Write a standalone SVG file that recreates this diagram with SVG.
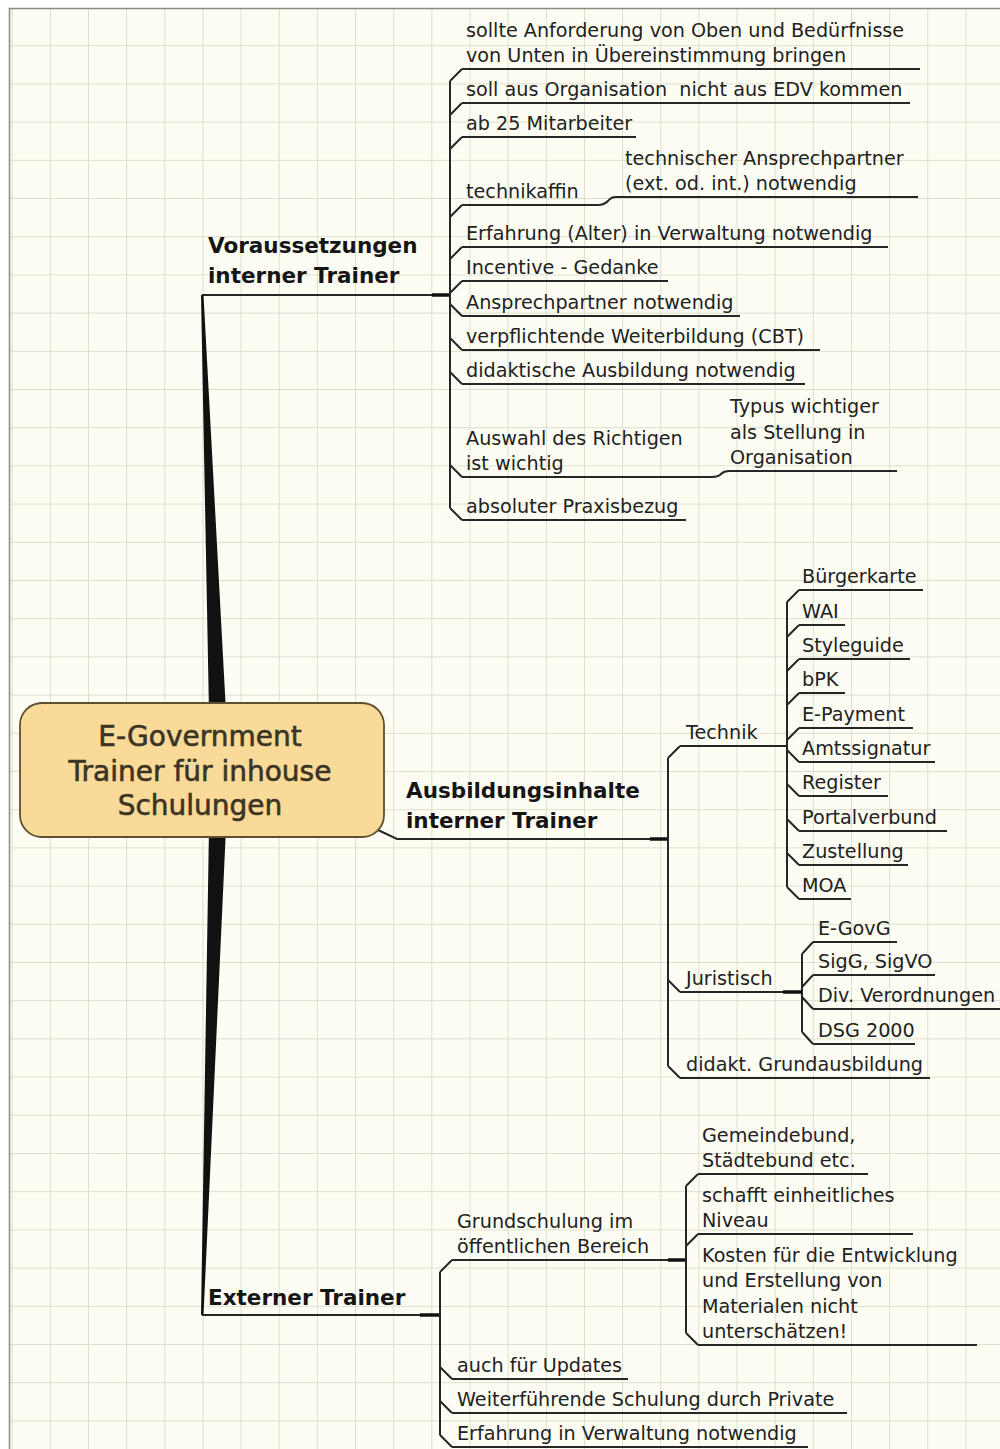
<svg xmlns="http://www.w3.org/2000/svg" width="1000" height="1449" viewBox="0 0 1000 1449">
<defs>
<pattern id="grid" patternUnits="userSpaceOnUse" x="11.7" y="7" width="38.15" height="38.2">
<path d="M0 0.5 H38.15 M0.5 0 V38.2" stroke="#dcdfcc" stroke-width="1" fill="none"/>
</pattern>
<style>
.t{font-family:"DejaVu Sans",Verdana,sans-serif;font-size:19.2px;fill:#222}
.b{font-family:"DejaVu Sans",Verdana,sans-serif;font-size:21.5px;font-weight:bold;fill:#151515}
.c{font-family:"DejaVu Sans",Verdana,sans-serif;font-size:28px;fill:#3b3424;stroke:#3b3424;stroke-width:0.6;text-anchor:middle}
.ln{stroke:#262626;stroke-width:2;fill:none}
.ul{stroke:#262626;stroke-width:2;fill:none}
.stub{stroke:#111;stroke-width:3.5;fill:none}
</style>
</defs>
<rect x="0" y="0" width="1000" height="1449" fill="#ffffff"/>
<rect x="9" y="8" width="991" height="1441" fill="#fdfdf3"/>
<rect x="9" y="8" width="991" height="1441" fill="url(#grid)"/>
<path d="M9.5 1449 V8.5 H1000" stroke="#8a8a80" stroke-width="1.5" fill="none"/>

<g id="connectors">
<polygon points="201,295 203.5,295 226,712 209,712" fill="#111"/>
<polygon points="209,828 226,828 203.5,1315 201,1315" fill="#111"/>
<path class="ln" d="M202 295 H450"/>
<path class="stub" d="M432 295 H450"/>
<path class="ln" d="M450 81 V508"/>
<path class="ln" d="M450 81 L462 69 M450 115 L462 103 M450 149 L462 137 M450 217 L462 205 M450 259 L462 247 M450 293 L462 281 M450 304 L462 316 M450 338 L462 350 M450 372 L462 384 M450 465 L462 477 M450 508 L462 520"/>
<path class="ln" d="M598 205 Q604 205 608 201 Q611 197 616 197"/>
<path class="ln" d="M712 477 Q718 477 721 474 Q724 471 729 471"/>
<path class="ln" d="M378 830 L397 839 H668"/>
<path class="stub" d="M650 839 H668"/>
<path class="ln" d="M668 758 V1066"/>
<path class="ln" d="M668 758 L680 746 M668 980 L680 992 M668 1066 L680 1078"/>
<path class="ln" d="M787 602 V887"/>
<path class="ln" d="M787 602 L799 590 M787 637 L799 625 M787 671 L799 659 M787 705 L799 693 M787 740 L799 728 M787 750 L799 762 M787 784 L799 796 M787 819 L799 831 M787 853 L799 865 M787 887 L799 899"/>
<path class="ln" d="M802 954 V1032"/>
<path class="stub" d="M783 992 H802"/>
<path class="ln" d="M802 954 L813 942 M802 987 L813 975 M802 997 L813 1009 M802 1032 L813 1044"/>
<path class="ln" d="M202 1315 H440"/>
<path class="stub" d="M420 1315 H440"/>
<path class="ln" d="M440 1272 V1435"/>
<path class="ln" d="M440 1272 L452 1260 M440 1367 L452 1379 M440 1401 L452 1413 M440 1435 L452 1447"/>
<path class="stub" d="M668 1260 H686"/>
<path class="ln" d="M686 1186 V1333"/>
<path class="ln" d="M686 1186 L698 1174 M686 1246 L698 1234 M686 1333 L698 1345"/>
</g>

<g id="center">
<rect x="20" y="703" width="364" height="134" rx="22" fill="#f9da98" stroke="#5e4f30" stroke-width="1.8"/>
<text class="c" x="200" y="746">E-Government</text>
<text class="c" x="200" y="781">Trainer für inhouse</text>
<text class="c" x="200" y="815">Schulungen</text>
</g>

<g id="voraussetzungen">
<text class="b" x="208" y="253">Voraussetzungen</text>
<text class="b" x="208" y="283">interner Trainer</text>
</g>
<g id="v1"><text class="t" x="466" y="37">sollte Anforderung von Oben und Bedürfnisse</text><text class="t" x="466" y="62">von Unten in Übereinstimmung bringen</text><path class="ul" d="M462 69 H920"/></g>
<g id="v2"><text class="t" x="466" y="96" xml:space="preserve">soll aus Organisation  nicht aus EDV kommen</text><path class="ul" d="M462 103 H910"/></g>
<g id="v3"><text class="t" x="466" y="130">ab 25 Mitarbeiter</text><path class="ul" d="M462 137 H636"/></g>
<g id="v4"><text class="t" x="466" y="198">technikaffin</text><path class="ul" d="M462 205 H598"/></g>
<g id="v4a"><text class="t" x="625" y="165">technischer Ansprechpartner</text><text class="t" x="625" y="190">(ext. od. int.) notwendig</text><path class="ul" d="M616 197 H918"/></g>
<g id="v5"><text class="t" x="466" y="240">Erfahrung (Alter) in Verwaltung notwendig</text><path class="ul" d="M462 247 H888"/></g>
<g id="v6"><text class="t" x="466" y="274">Incentive - Gedanke</text><path class="ul" d="M462 281 H668"/></g>
<g id="v7"><text class="t" x="466" y="309">Ansprechpartner notwendig</text><path class="ul" d="M462 316 H740"/></g>
<g id="v8"><text class="t" x="466" y="343">verpflichtende Weiterbildung (CBT)</text><path class="ul" d="M462 350 H820"/></g>
<g id="v9"><text class="t" x="466" y="377">didaktische Ausbildung notwendig</text><path class="ul" d="M462 384 H805"/></g>
<g id="v10"><text class="t" x="466" y="444.5">Auswahl des Richtigen</text><text class="t" x="466" y="470">ist wichtig</text><path class="ul" d="M462 477 H712"/></g>
<g id="v10a"><text class="t" x="730" y="413">Typus wichtiger</text><text class="t" x="730" y="438.5">als Stellung in</text><text class="t" x="730" y="464">Organisation</text><path class="ul" d="M729 471 H897"/></g>
<g id="v11"><text class="t" x="466" y="513">absoluter Praxisbezug</text><path class="ul" d="M462 520 H686"/></g>

<g id="ausbildung">
<text class="b" x="406" y="798">Ausbildungsinhalte</text>
<text class="b" x="406" y="828">interner Trainer</text>
</g>
<g id="technik"><text class="t" x="686" y="739">Technik</text><path class="ul" d="M680 746 H787"/></g>
<g id="t1"><text class="t" x="802" y="583">Bürgerkarte</text><path class="ul" d="M799 590 H923"/></g>
<g id="t2"><text class="t" x="802" y="618">WAI</text><path class="ul" d="M799 625 H845"/></g>
<g id="t3"><text class="t" x="802" y="652">Styleguide</text><path class="ul" d="M799 659 H910"/></g>
<g id="t4"><text class="t" x="802" y="686">bPK</text><path class="ul" d="M799 693 H845"/></g>
<g id="t5"><text class="t" x="802" y="721">E-Payment</text><path class="ul" d="M799 728 H913"/></g>
<g id="t6"><text class="t" x="802" y="755">Amtssignatur</text><path class="ul" d="M799 762 H935"/></g>
<g id="t7"><text class="t" x="802" y="789">Register</text><path class="ul" d="M799 796 H888"/></g>
<g id="t8"><text class="t" x="802" y="824">Portalverbund</text><path class="ul" d="M799 831 H947"/></g>
<g id="t9"><text class="t" x="802" y="858">Zustellung</text><path class="ul" d="M799 865 H908"/></g>
<g id="t10"><text class="t" x="802" y="892">MOA</text><path class="ul" d="M799 899 H851"/></g>
<g id="juristisch"><text class="t" x="686" y="985">Juristisch</text><path class="ul" d="M680 992 H783"/></g>
<g id="j1"><text class="t" x="818" y="935">E-GovG</text><path class="ul" d="M813 942 H897"/></g>
<g id="j2"><text class="t" x="818" y="968">SigG, SigVO</text><path class="ul" d="M813 975 H935"/></g>
<g id="j3"><text class="t" x="818" y="1002">Div. Verordnungen</text><path class="ul" d="M813 1009 H1000"/></g>
<g id="j4"><text class="t" x="818" y="1037">DSG 2000</text><path class="ul" d="M813 1044 H915"/></g>
<g id="didakt"><text class="t" x="686" y="1071">didakt. Grundausbildung</text><path class="ul" d="M680 1078 H930"/></g>

<g id="externer">
<text class="b" x="208" y="1305">Externer Trainer</text>
</g>
<g id="e1"><text class="t" x="457" y="1227.5">Grundschulung im</text><text class="t" x="457" y="1253">öffentlichen Bereich</text><path class="ul" d="M452 1260 H668"/></g>
<g id="e1a"><text class="t" x="702" y="1141.5">Gemeindebund,</text><text class="t" x="702" y="1167">Städtebund etc.</text><path class="ul" d="M698 1174 H868"/></g>
<g id="e1b"><text class="t" x="702" y="1201.5">schafft einheitliches</text><text class="t" x="702" y="1227">Niveau</text><path class="ul" d="M698 1234 H913"/></g>
<g id="e1c"><text class="t" x="702" y="1261.5">Kosten für die Entwicklung</text><text class="t" x="702" y="1287">und Erstellung von</text><text class="t" x="702" y="1312.5">Materialen nicht</text><text class="t" x="702" y="1338">unterschätzen!</text><path class="ul" d="M698 1345 H977"/></g>
<g id="e2"><text class="t" x="457" y="1372">auch für Updates</text><path class="ul" d="M452 1379 H628"/></g>
<g id="e3"><text class="t" x="457" y="1406">Weiterführende Schulung durch Private</text><path class="ul" d="M452 1413 H847"/></g>
<g id="e4"><text class="t" x="457" y="1440">Erfahrung in Verwaltung notwendig</text><path class="ul" d="M452 1447 H808"/></g>
</svg>
